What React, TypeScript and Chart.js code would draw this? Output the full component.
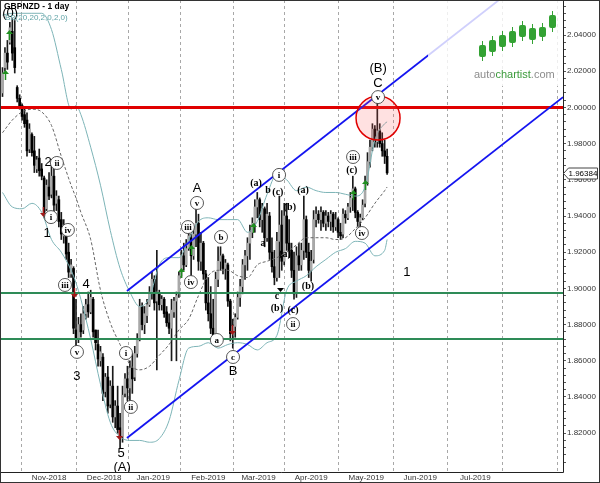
import React, { useEffect, useRef } from "react";
import { Chart, registerables } from "chart.js";
Chart.register(...registerables);

// ---------- DATA ----------
const barOpen = [2.008,2.022,2.030,2.036,2.042,2.033,2.011,2.005,2.001,1.996,
 1.993,1.977,1.985,1.976,1.966,1.972,1.966,1.961,1.944,1.956,
 1.952,1.962,1.947,1.949,1.938,1.929,1.930,1.920,1.908,1.911,
 1.877,1.872,1.880,1.877,1.886,1.891,1.887,1.894,1.877,1.869,
 1.860,1.862,1.843,1.851,1.836,1.846,1.829,1.835,1.823,1.818,
 1.842,1.850,1.845,1.856,1.851,1.864,1.872,1.890,1.880,1.885,
 1.891,1.898,1.905,1.893,1.897,1.891,1.894,1.887,1.881,1.878,
 1.887,1.893,1.897,1.907,1.918,1.913,1.922,1.928,1.918,1.930,
 1.936,1.915,1.925,1.908,1.892,1.886,1.878,1.875,1.905,1.915,
 1.918,1.911,1.913,1.893,1.875,1.879,1.884,1.895,1.901,1.913,
 1.918,1.925,1.931,1.936,1.945,1.949,1.938,1.944,1.928,1.940,
 1.920,1.912,1.906,1.926,1.935,1.915,1.940,1.925,1.921,1.910,
 1.897,1.918,1.913,1.921,1.938,1.920,1.910,1.916,1.938,1.941,
 1.938,1.942,1.936,1.940,1.937,1.941,1.934,1.938,1.931,1.930,
 1.941,1.939,1.945,1.950,1.955,1.942,1.937,1.939,1.947,1.959,
 1.970,1.978,1.988,1.981,1.987,1.980,1.976,1.973];
const barHigh = [2.022,2.033,2.037,2.047,2.049,2.048,2.012,2.007,2.002,2.000,
 1.997,1.991,1.986,1.984,1.973,1.977,1.969,1.962,1.960,1.964,
 1.968,1.966,1.954,1.951,1.942,1.938,1.931,1.925,1.916,1.912,
 1.894,1.884,1.886,1.890,1.894,1.898,1.899,1.895,1.877,1.877,
 1.868,1.864,1.853,1.857,1.849,1.857,1.838,1.846,1.831,1.846,
 1.853,1.857,1.860,1.864,1.868,1.875,1.894,1.892,1.890,1.894,
 1.901,1.909,1.907,1.921,1.899,1.896,1.895,1.890,1.886,1.894,
 1.895,1.898,1.909,1.921,1.925,1.927,1.932,1.930,1.934,1.945,
 1.941,1.931,1.926,1.910,1.906,1.901,1.894,1.909,1.923,1.923,
 1.919,1.916,1.914,1.894,1.883,1.886,1.898,1.905,1.916,1.921,
 1.928,1.935,1.939,1.949,1.953,1.950,1.947,1.945,1.947,1.942,
 1.928,1.921,1.931,1.951,1.943,1.947,1.947,1.938,1.925,1.920,
 1.923,1.925,1.925,1.951,1.940,1.925,1.921,1.943,1.945,1.943,
 1.945,1.943,1.943,1.942,1.943,1.942,1.942,1.939,1.936,1.944,
 1.943,1.947,1.953,1.962,1.956,1.943,1.941,1.949,1.962,1.975,
 1.982,1.991,1.990,2.005,1.991,1.986,1.982,1.977];
const barLow = [2.006,2.020,2.021,2.035,2.026,2.019,2.003,1.999,1.993,1.989,
 1.973,1.975,1.973,1.964,1.964,1.962,1.960,1.939,1.943,1.949,
 1.950,1.942,1.943,1.934,1.927,1.925,1.916,1.906,1.906,1.875,
 1.868,1.870,1.873,1.875,1.883,1.884,1.886,1.873,1.866,1.857,
 1.857,1.838,1.840,1.831,1.834,1.826,1.823,1.820,1.812,1.815,
 1.840,1.838,1.836,1.842,1.849,1.862,1.871,1.877,1.875,1.881,
 1.890,1.894,1.888,1.855,1.888,1.888,1.884,1.879,1.875,1.860,
 1.884,1.860,1.895,1.906,1.910,1.912,1.921,1.903,1.916,1.923,
 1.910,1.910,1.905,1.888,1.882,1.875,1.871,1.873,1.901,1.910,
 1.908,1.905,1.890,1.871,1.867,1.873,1.883,1.890,1.897,1.905,
 1.910,1.916,1.928,1.931,1.939,1.934,1.931,1.923,1.926,1.916,
 1.909,1.902,1.904,1.906,1.910,1.913,1.921,1.917,1.906,1.894,
 1.895,1.910,1.910,1.916,1.917,1.906,1.904,1.914,1.934,1.936,
 1.932,1.934,1.932,1.934,1.932,1.931,1.932,1.928,1.927,1.928,
 1.936,1.938,1.942,1.943,1.939,1.934,1.933,1.938,1.945,1.957,
 1.967,1.976,1.978,1.978,1.978,1.973,1.969,1.963];
const barClose = [2.019,2.030,2.025,2.044,2.030,2.022,2.005,2.000,1.995,1.991,
 1.976,1.988,1.975,1.968,1.971,1.965,1.962,1.942,1.957,1.951,
 1.962,1.946,1.951,1.937,1.930,1.935,1.919,1.909,1.913,1.878,
 1.872,1.880,1.876,1.886,1.891,1.887,1.895,1.876,1.870,1.861,
 1.865,1.842,1.851,1.835,1.846,1.829,1.835,1.822,1.818,1.841,
 1.850,1.845,1.856,1.850,1.864,1.872,1.890,1.880,1.886,1.891,
 1.898,1.905,1.892,1.898,1.891,1.894,1.886,1.881,1.878,1.888,
 1.893,1.896,1.907,1.918,1.913,1.922,1.929,1.918,1.930,1.936,
 1.915,1.925,1.908,1.892,1.886,1.878,1.874,1.905,1.915,1.918,
 1.911,1.914,1.893,1.875,1.879,1.884,1.895,1.901,1.913,1.918,
 1.925,1.931,1.936,1.945,1.949,1.938,1.944,1.928,1.941,1.920,
 1.912,1.906,1.926,1.935,1.915,1.940,1.925,1.921,1.910,1.897,
 1.918,1.913,1.921,1.938,1.920,1.910,1.915,1.938,1.941,1.938,
 1.942,1.936,1.940,1.937,1.941,1.934,1.938,1.931,1.929,1.941,
 1.939,1.945,1.950,1.955,1.942,1.937,1.939,1.946,1.959,1.970,
 1.978,1.988,1.981,1.987,1.980,1.976,1.973,1.96384];

// month start positions (bar index) and labels
const monthTickIdx = [19, 41.5, 61.5, 84, 104.5, 126, 148.5, 170.5, 193, 215.5];
const monthTickLabels = ["Nov-2018","Dec-2018","Jan-2019","Feb-2019","Mar-2019","Apr-2019","May-2019","Jun-2019","Jul-2019",""];

// Bollinger band (20,2) values
const bbIdx = [0,4,8,12,16,20,24,28,30,32,36,40,44,48,52,56,60,64,68,72,76,80,84,88,92,96,100,104,108,112,116,120,124,128,132,136,140,144,148,152,156,157];
const bbUpper = [2.051,2.052,2.052,2.052,2.052,2.043,2.021,1.999,2.001,1.996,1.978,1.957,1.932,1.911,1.898,1.890,1.895,1.913,1.917,1.917,1.927,1.937,1.939,1.938,1.938,1.938,1.931,1.937,1.952,1.963,1.960,1.954,1.956,1.954,1.953,1.953,1.952,1.951,1.956,1.982,1.991,1.992];
const bbMiddle = [1.986,1.993,1.9975,1.999,1.9975,1.990,1.973,1.957,1.950,1.942,1.927,1.899,1.881,1.869,1.858,1.855,1.857,1.863,1.869,1.877,1.883,1.896,1.907,1.910,1.910,1.907,1.906,1.913,1.915,1.917,1.920,1.924,1.928,1.928,1.928,1.927,1.928,1.933,1.939,1.947,1.954,1.956];
const bbLower = [1.953,1.945,1.944,1.947,1.942,1.927,1.920,1.910,1.903,1.894,1.872,1.847,1.826,1.818,1.816,1.816,1.815,1.817,1.827,1.849,1.867,1.868,1.870,1.867,1.869,1.870,1.869,1.866,1.870,1.874,1.899,1.904,1.907,1.912,1.916,1.920,1.922,1.926,1.925,1.918,1.921,1.927];

// horizontal levels and channel
const resistanceLevel = 2.0;
const supportLevels = [1.8975, 1.872];
const channelIdx = [50.8, 228.8];
const channelLower = [1.8173, 2.0057];
const channelUpper = [1.8986, 2.087];
const highlightIdx = 153.3;
const highlightPrice = 1.9941;

// wave labels
const waveText = ["(0)","2","ii","i","1","iv","iii","4","v","3","i","ii","5","(A)","A","v","iii","iv","b","a","c","B","(a)","b","(c)","i","a","(b)","(a)","c","(b)","(c)","ii","(b)","(a)","(c)","iii","iv","(B)","C","v","1"];
const waveIdx = [3.1,18.6,22.2,19.8,18.2,26.7,25.5,34.1,30.4,30.4,50.4,52.4,48.4,48.8,79.4,79.4,75.7,76.9,89.2,87.5,94.1,94.1,103.5,108.4,112.4,112.9,106.3,117.3,115.3,112.0,112.0,118.6,118.6,124.7,122.7,142.6,143.1,146.7,153.3,153.3,153.3,165.1];
const wavePrice = [2.0522,1.9698,1.9693,1.9394,1.9306,1.9323,1.9019,1.9024,1.8649,1.8516,1.8643,1.8345,1.8091,1.8013,1.9555,1.9472,1.9339,1.9035,1.9284,1.8715,1.8621,1.8544,1.9582,1.9544,1.9533,1.9627,1.9251,1.9450,1.9185,1.8953,1.8892,1.8881,1.8803,1.9013,1.9544,1.9654,1.9726,1.9306,2.0218,2.0135,2.0057,1.9090];
const waveKind = ["big","big","circle","circle","big","circle","circle","big","circle","big","circle","circle","big","big","big","circle","circle","circle","circle","circle","circle","big","serif","serif","serif","circle","serif","serif","serif","serif","serif","serif","circle","serif","serif","serif","circle","circle","big","big","circle","big"];

// signal arrows
const arrowIdx = [1.0,2.7,72.9,76.9,102.2,143.1,148.0,16.5,29.2,47.6,93.7,113.3];
const arrowPrice = [2.0179,2.040,1.9085,1.9212,1.9334,1.9516,1.9571,1.9422,1.8975,1.819,1.877,1.9008];
const arrowKind = ["up","up","up","up","up","up","up","down","down","down","down","black"];

const X_MIN = -1.02, X_MAX = 228.8, Y_MIN = 1.79856, Y_MAX = 2.05934;

const FONT = "'Liberation Sans', Arial, sans-serif";
const SERIF = "'Liberation Serif', 'Times New Roman', serif";

const overlay = {
  id: "overlay",
  afterDatasetsDraw(chart: any) {
    const { ctx, chartArea: a } = chart;
    const xs = chart.scales.x, ys = chart.scales.y;
    ctx.save();
    ctx.beginPath();
    ctx.rect(a.left, a.top, a.right - a.left, a.bottom - a.top);
    ctx.clip();

    // logo veil + logo
    ctx.fillStyle = "rgba(255,255,255,0.8)";
    ctx.fillRect(a.right - 135, a.top, 135, 86);
    const logo = [[482,45,57],[492,40,52],[502,35,47],[512,31,43],[522,25,37],[532,28,40],[542,27,37],[552,15,28]];
    ctx.fillStyle = "#33a233";
    ctx.strokeStyle = "#33a233";
    for (const [cx, t, b] of logo) {
      ctx.beginPath(); ctx.moveTo(cx + 0.5, t - 4); ctx.lineTo(cx + 0.5, b + 4); ctx.lineWidth = 1; ctx.stroke();
      ctx.beginPath();
      (ctx as any).roundRect ? (ctx as any).roundRect(cx - 3, t, 7, b - t, 2) : ctx.rect(cx - 3, t, 7, b - t);
      ctx.fill();
    }
    ctx.font = "11px " + FONT;
    ctx.textBaseline = "middle";
    ctx.textAlign = "left";
    let lx = 474;
    const parts: [string, string][] = [["auto", "#8c8c8c"], ["chartist", "#3a9a3a"], [".com", "#8c8c8c"]];
    for (const [t, c] of parts) { ctx.fillStyle = c; ctx.fillText(t, lx, 75); lx += ctx.measureText(t).width; }

    // arrows
    for (let i = 0; i < arrowIdx.length; i++) {
      const px = Math.round(xs.getPixelForValue(arrowIdx[i])) + 0.5;
      const py = ys.getPixelForValue(arrowPrice[i]);
      const k = arrowKind[i];
      const col = k === "up" ? "#1f8f1f" : k === "down" ? "#a01818" : "#000";
      ctx.strokeStyle = col; ctx.fillStyle = col; ctx.lineWidth = 1.5;
      const d = k === "up" ? -1 : 1;
      if (k !== "black") {
        ctx.beginPath(); ctx.moveTo(px, py - d * 5); ctx.lineTo(px, py + d * 3); ctx.stroke();
      }
      ctx.beginPath();
      ctx.moveTo(px - 3.5, py + d * 1);
      ctx.lineTo(px + 3.5, py + d * 1);
      ctx.lineTo(px, py + d * 5);
      ctx.closePath(); ctx.fill();
    }

    // wave labels
    ctx.textAlign = "center";
    ctx.textBaseline = "middle";
    for (let i = 0; i < waveText.length; i++) {
      const px = xs.getPixelForValue(waveIdx[i]);
      const py = ys.getPixelForValue(wavePrice[i]);
      const k = waveKind[i];
      if (k === "big") {
        ctx.font = "13px " + FONT; ctx.fillStyle = "#000";
        ctx.fillText(waveText[i], px, py);
      } else if (k === "serif") {
        ctx.font = "bold 10px " + SERIF; ctx.fillStyle = "#000";
        ctx.fillText(waveText[i], px, py);
      } else {
        ctx.beginPath(); ctx.arc(px, py, 6.5, 0, Math.PI * 2);
        ctx.fillStyle = "#fff"; ctx.fill();
        ctx.strokeStyle = "#444"; ctx.lineWidth = 0.9; ctx.stroke();
        ctx.font = "bold 9px " + SERIF; ctx.fillStyle = "#000";
        ctx.fillText(waveText[i], px, py + 0.5);
      }
    }
    ctx.restore();
  },
  afterDraw(chart: any) {
    const { ctx, chartArea: a } = chart;
    const ys = chart.scales.y;
    ctx.save();
    // title + indicator
    ctx.textAlign = "left"; ctx.textBaseline = "middle";
    ctx.font = "bold 8.5px " + FONT; ctx.fillStyle = "#000";
    ctx.fillText("GBPNZD - 1 day", 4, 7);
    ctx.font = "8px " + FONT; ctx.fillStyle = "#5fa3a6";
    ctx.fillText("BB(20,20,2,0,2,0)", 5, 18);
    // frame
    ctx.strokeStyle = "#222"; ctx.lineWidth = 1;
    ctx.beginPath();
    ctx.moveTo(a.right + 0.5, 0); ctx.lineTo(a.right + 0.5, a.bottom + 0.5);
    ctx.moveTo(0, a.bottom + 0.5); ctx.lineTo(a.right + 0.5, a.bottom + 0.5);
    ctx.stroke();
    ctx.strokeStyle = "#333";
    ctx.strokeRect(0.5, 0.5, 599, 482);
    // last price tag
    const last = barClose[barClose.length - 1];
    const y = Math.round(ys.getPixelForValue(last)) + 0.5;
    const x0 = a.right + 0.5;
    ctx.beginPath();
    ctx.moveTo(x0, y); ctx.lineTo(x0 + 5, y - 5.5); ctx.lineTo(597.5, y - 5.5);
    ctx.lineTo(597.5, y + 5.5); ctx.lineTo(x0 + 5, y + 5.5); ctx.closePath();
    ctx.fillStyle = "#fff"; ctx.fill(); ctx.strokeStyle = "#444"; ctx.stroke();
    ctx.fillStyle = "#000"; ctx.font = "8px " + FONT;
    ctx.fillText(last.toFixed(5), x0 + 5, y + 0.5);
    ctx.restore();
  },
};

export default function App() {
  const ref = useRef<HTMLCanvasElement>(null);
  useEffect(() => {
    if (!ref.current) return;
    const idx = barOpen.map((_, i) => i);
    const upColor = "#a8a8a8";
    const downColor = "#000000";
    const flat = (v: number) => [{ x: X_MIN, y: v }, { x: X_MAX, y: v }];
    const chart = new Chart(ref.current, {
      type: "bar",
      data: {
        datasets: [
          {
            type: "bar",
            data: idx.map((i) => ({ x: i, y: [barLow[i], barHigh[i]] })),
            backgroundColor: "#1a1a1a",
            barThickness: 1,
            grouped: false,
            borderWidth: 0,
            order: 20,
          } as any,
          {
            type: "bar",
            data: idx.map((i) => ({ x: i, y: [barOpen[i], barClose[i]] })),
            backgroundColor: idx.map((i) => (barClose[i] >= barOpen[i] ? upColor : downColor)),
            barThickness: 2,
            grouped: false,
            borderWidth: 0,
            order: 19,
          } as any,
          {
            type: "line",
            data: bbIdx.map((v, i) => ({ x: v, y: bbUpper[i] })),
            borderColor: "#7db4b7", borderWidth: 1, pointRadius: 0, cubicInterpolationMode: "monotone", order: 15,
          },
          {
            type: "line",
            data: bbIdx.map((v, i) => ({ x: v, y: bbLower[i] })),
            borderColor: "#7db4b7", borderWidth: 1, pointRadius: 0, cubicInterpolationMode: "monotone", order: 15,
          },
          {
            type: "line",
            data: bbIdx.map((v, i) => ({ x: v, y: bbMiddle[i] })),
            borderColor: "#666", borderWidth: 1, borderDash: [3, 2], pointRadius: 0, cubicInterpolationMode: "monotone", order: 15,
          },
          {
            type: "line",
            data: flat(supportLevels[0]),
            borderColor: "#2e8b57", borderWidth: 2, pointRadius: 0, order: 10,
          },
          {
            type: "line",
            data: flat(supportLevels[1]),
            borderColor: "#2e8b57", borderWidth: 2, pointRadius: 0, order: 10,
          },
          {
            type: "line",
            data: flat(resistanceLevel),
            borderColor: "#e00000", borderWidth: 3, pointRadius: 0, order: 10,
          },
          {
            type: "line",
            data: channelIdx.map((v, i) => ({ x: v, y: channelUpper[i] })),
            borderColor: "#1414f0", borderWidth: 1.8, pointRadius: 0, order: 9,
          },
          {
            type: "line",
            data: channelIdx.map((v, i) => ({ x: v, y: channelLower[i] })),
            borderColor: "#1414f0", borderWidth: 1.8, pointRadius: 0, order: 9,
          },
          {
            type: "line",
            data: [{ x: highlightIdx, y: highlightPrice }],
            showLine: false,
            pointRadius: 22,
            pointBackgroundColor: "rgba(255,90,90,0.18)",
            pointBorderColor: "#e00000",
            pointBorderWidth: 1.5,
            order: 5,
          },
        ] as any,
      },
      options: {
        responsive: false,
        animation: false,
        devicePixelRatio: 1,
        layout: { padding: 0, autoPadding: false },
        plugins: { legend: { display: false }, tooltip: { enabled: false } },
        scales: {
          x: {
            type: "linear",
            min: X_MIN,
            max: X_MAX,
            offset: false,
            afterBuildTicks: (s: any) => { s.ticks = monthTickIdx.map((v) => ({ value: v })); },
            afterFit: (s: any) => { s.height = 11; s.paddingLeft = 0; s.paddingRight = 0; },
            grid: { color: "#a8a8a8", drawTicks: false, lineWidth: 1 },
            border: { display: false, dash: [3, 3] },
            ticks: {
              autoSkip: false, maxRotation: 0, padding: 1,
              font: { family: FONT, size: 8 }, color: "#333",
              callback: (v: any) => { const k = monthTickIdx.indexOf(Number(v)); return k >= 0 ? monthTickLabels[k] : ""; },
            },
          },
          y: {
            type: "linear",
            position: "right",
            min: Y_MIN,
            max: Y_MAX,
            afterBuildTicks: (s: any) => {
              const t = [];
              for (let k = 451; k <= 514; k++) t.push({ value: k * 0.004 });
              s.ticks = t;
            },
            afterFit: (s: any) => { s.width = 37; s.paddingTop = 0; s.paddingBottom = 0; },
            grid: { drawOnChartArea: false, drawTicks: true, tickLength: 3, color: "#555" },
            border: { display: false },
            ticks: {
              autoSkip: false, padding: 1,
              font: { family: FONT, size: 8 }, color: "#333",
              callback: (v: any) => {
                const n = Number(v);
                return Math.abs(n * 50 - Math.round(n * 50)) < 1e-6 ? n.toFixed(5) : "";
              },
            },
          },
        },
      },
      plugins: [overlay],
    });
    return () => chart.destroy();
  }, []);
  return (
    <div style={{ position: "absolute", left: 0, top: 0, width: 600, height: 483, background: "#fff" }}>
      <canvas ref={ref} width={600} height={483} style={{ display: "block" }} />
    </div>
  );
}
